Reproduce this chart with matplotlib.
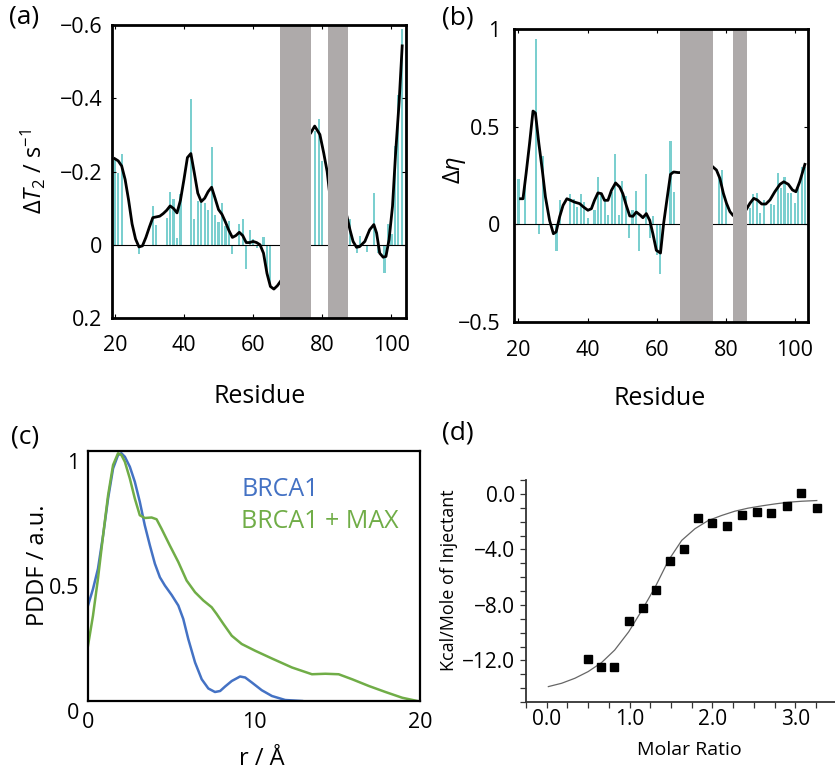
import numpy as np
import matplotlib
matplotlib.use("Agg")
import matplotlib.pyplot as plt
from matplotlib.ticker import MultipleLocator, FixedLocator, FuncFormatter
import matplotlib.transforms as mtransforms

plt.rcParams['font.family'] = ['Open Sans', 'DejaVu Sans']
plt.rcParams['mathtext.fontset'] = 'custom'
plt.rcParams['mathtext.rm'] = 'Open Sans'
plt.rcParams['mathtext.it'] = 'Open Sans:italic'

BAR = "#7bcfcf"
BAND = "#aeaaaa"
BLUE = "#4472c4"
GREEN = "#70ad47"

# ── (a) ΔT2 per residue ─────────────────────────────────────────────
res_a = [20, 21, 22, 27, 31, 32, 35, 36, 37, 38, 39, 42, 43, 44, 45, 46, 47,
         48, 49, 50, 51, 52, 53, 54, 56, 57, 58, 59, 60, 61, 63, 64, 65,
         78, 79, 80, 88, 90, 91, 93, 95, 96, 98, 99, 100, 101, 102, 103]
dt2_a = [-0.235, -0.196, -0.249, 0.026, -0.106, -0.055, -0.073, -0.145, -0.124,
         -0.018, -0.138, -0.397, -0.069, -0.120, -0.122, -0.115, -0.094,
         -0.268, -0.082, -0.062, -0.113, -0.050, -0.064, 0.026, -0.056, -0.069,
         0.066, -0.039, -0.015, 0.010, -0.021, 0.070, 0.115,
         -0.310, -0.344, -0.228, -0.070, 0.023, -0.025, 0.020, -0.140, 0.023,
         0.078, -0.058, -0.030, -0.270, -0.410, -0.590]
# smoothed trace, nan = gap under the grey bands
trace_res_a = [20, 21, 22, 23, 24, 25, 26, 27, 28, 29, 30, 31, 32, 33, 34, 35,
               36, 37, 38, 39, 40, 41, 42, 43, 44, 45, 46, 47, 48, 49, 50, 51,
               52, 53, 54, 55, 56, 57, 58, 59, 60, 61, 62, 63, 64, 65, 66, 67,
               67.9, np.nan,
               76.7, 77.8, 79.3, 80.4, 81.4, 82.0, np.nan,
               87.1, 88.0, 88.9, 89.9, 90.8, 92.3, 93.7, 94.9, 95.7, 96.6,
               97.6, 98.4, 99.3, 100.3, 101.2, 102.2, 103.1]
trace_a = [-0.235, -0.229, -0.215, -0.178, -0.122, -0.057, -0.016, 0.006,
           0.003, -0.020, -0.048, -0.074, -0.076, -0.078, -0.085, -0.094,
           -0.106, -0.099, -0.087, -0.122, -0.178, -0.238, -0.249, -0.196,
           -0.141, -0.118, -0.127, -0.145, -0.157, -0.127, -0.096, -0.083,
           -0.062, -0.039, -0.020, -0.025, -0.034, -0.025, -0.006, -0.006,
           -0.009, -0.006, 0.000, 0.023, 0.078, 0.114, 0.121, 0.112,
           0.100, np.nan,
           -0.306, -0.324, -0.301, -0.251, -0.200, -0.150, np.nan,
           -0.078, -0.041, -0.009, 0.007, 0.005, -0.009, -0.041, -0.055,
           -0.032, 0.023, 0.034, 0.032, -0.014, -0.105, -0.251, -0.388, -0.543]
bands_a = [(67.9, 76.6), (81.6, 87.3)]

# ── (b) Δη per residue ──────────────────────────────────────────────
res_b = [20, 22, 25, 26, 27, 31, 32, 35, 36, 37, 38, 39, 40, 42, 43, 44, 45,
         46, 47, 48, 49, 50, 51, 52, 53, 54, 55, 57, 58, 59, 60, 61, 64, 65,
         78, 79, 80, 87, 88, 89, 90, 91, 93, 94, 95, 96, 97, 98, 99, 100,
         101, 102, 103]
deta_b = [0.232, 0.200, 0.950, -0.050, 0.350, -0.138, 0.123, 0.154, 0.131,
          0.089, 0.157, 0.114, 0.034, 0.072, 0.242, 0.162, 0.123, 0.046,
          0.166, 0.362, 0.046, 0.220, 0.143, -0.068, 0.072, 0.171, -0.137,
          0.256, -0.068, 0.043, -0.155, -0.253, 0.427, 0.166,
          0.235, 0.280, 0.105, 0.082, 0.155, 0.159, 0.056, 0.125, 0.104,
          0.099, 0.261, 0.188, 0.244, 0.159, 0.159, 0.108, 0.188, 0.295, 0.292]
trace_res_b = [20.6, 21.3, 22.2, 23.2, 24.2, 24.9, 25.9, 26.9, 27.8, 29.0,
               30.1, 30.9, 31.9, 32.9, 34.0, 35.1, 36.2, 37.7, 38.8, 40.1,
               41.1, 42.0, 43.0, 44.0, 44.9, 45.9, 46.9, 48.1, 49.3, 50.2,
               51.2, 52.2, 53.1, 54.1, 55.3, 56.0, 57.0, 58.0, 58.9, 59.9,
               61.1, 62.0, 63.0, 64.0, 64.9, 66.2, 67.0, np.nan,
               76.2, 77.3, 78.3, 79.3, 80.2, 81.2, 82.0, np.nan,
               86.0, 87.0, 88.1, 89.1, 90.4, 91.6, 92.8, 94.2, 95.7, 96.8,
               98.1, 99.3, 100.3, 101.4, 102.9]
trace_b = [0.131, 0.131, 0.260, 0.413, 0.580, 0.570, 0.413, 0.276, 0.140,
           0.020, -0.048, -0.039, 0.038, 0.097, 0.131, 0.123, 0.114, 0.106,
           0.089, 0.072, 0.080, 0.123, 0.161, 0.157, 0.123, 0.123, 0.174,
           0.212, 0.191, 0.157, 0.097, 0.043, 0.041, 0.063, 0.046, 0.034,
           0.055, 0.020, -0.048, -0.133, -0.147, 0.003, 0.131, 0.256, 0.268,
           0.265, 0.265, np.nan,
           0.295, 0.278, 0.235, 0.159, 0.108, 0.065, 0.048, np.nan,
           0.078, 0.108, 0.133, 0.125, 0.104, 0.104, 0.125, 0.167, 0.205,
           0.218, 0.205, 0.176, 0.167, 0.218, 0.307]
bands_b = [(66.7, 76.2), (82.0, 86.0)]

# ── (c) PDDF ────────────────────────────────────────────────────────
r_brca = [0.0, 0.30, 0.60, 0.91, 1.21, 1.51, 1.81, 2.01, 2.22, 2.52, 2.82,
          3.12, 3.42, 3.73, 4.03, 4.33, 4.63, 5.04, 5.44, 5.74, 6.04, 6.45,
          6.85, 7.25, 7.65, 7.96, 8.26, 8.66, 9.16, 9.47, 9.87, 10.47, 11.08,
          11.88, 12.89]
p_brca = [0.382, 0.448, 0.529, 0.663, 0.810, 0.930, 0.984, 0.991, 0.977,
          0.937, 0.877, 0.797, 0.703, 0.622, 0.549, 0.495, 0.462, 0.424,
          0.382, 0.328, 0.248, 0.154, 0.087, 0.050, 0.036, 0.040, 0.058,
          0.080, 0.098, 0.094, 0.074, 0.043, 0.020, 0.004, 0.0]
r_max = [0.0, 0.30, 0.60, 0.91, 1.21, 1.51, 1.81, 2.01, 2.22, 2.52, 2.82,
         3.12, 3.42, 3.83, 4.13, 4.43, 4.93, 5.44, 5.94, 6.45, 6.95, 7.45,
         7.75, 8.16, 8.66, 9.26, 10.07, 11.08, 12.29, 13.49, 14.30, 15.10,
         15.91, 16.92, 17.92, 18.93, 19.84]
p_max = [0.221, 0.341, 0.489, 0.663, 0.823, 0.944, 0.991, 0.984, 0.957,
         0.890, 0.810, 0.743, 0.732, 0.734, 0.727, 0.689, 0.622, 0.556,
         0.482, 0.435, 0.402, 0.375, 0.348, 0.308, 0.261, 0.228, 0.201,
         0.170, 0.134, 0.107, 0.109, 0.107, 0.087, 0.060, 0.036, 0.013, 0.0]

# ── (d) ITC ─────────────────────────────────────────────────────────
molar = [0.50, 0.66, 0.81, 0.99, 1.16, 1.32, 1.49, 1.66, 1.83, 2.00, 2.18,
         2.36, 2.54, 2.71, 2.90, 3.07, 3.26]
kcal = [-11.93, -12.5, -12.46, -9.17, -8.22, -6.95, -4.86, -4.0, -1.72,
        -2.11, -2.33, -1.51, -1.32, -1.36, -0.84, 0.04, -1.0]
fit_x = [0.02, 0.18, 0.34, 0.50, 0.66, 0.82, 0.99, 1.15, 1.31, 1.39, 1.47,
         1.63, 1.79, 1.95, 2.11, 2.27, 2.43, 2.60, 2.76, 2.92, 3.08, 3.26]
fit_y = [-13.89, -13.65, -13.29, -12.81, -12.17, -11.26, -9.94, -8.38,
         -6.71, -5.75, -4.79, -3.35, -2.51, -1.92, -1.56, -1.25, -1.03,
         -0.86, -0.72, -0.60, -0.53, -0.48]

W, H = 835, 773


def box(l, t, r, b):
    return [l / W, 1 - b / H, (r - l) / W, (b - t) / H]


fig = plt.figure(figsize=(W / 100, H / 100), dpi=100)


def residue_panel(ax, res, vals, tr_x, tr_y, bands):
    ax.bar(res, vals, width=0.62, color=BAR, linewidth=0, zorder=1)
    ax.axhline(0, color="k", lw=0.8, zorder=2)
    ax.plot(tr_x, tr_y, color="k", lw=2.0, zorder=3)
    for lo, hi in bands:
        ax.axvspan(lo, hi, color=BAND, lw=0, zorder=4)
    for s in ax.spines.values():
        s.set_linewidth(2.0)
        s.set_zorder(5)
    ax.xaxis.set_major_locator(FixedLocator([20, 40, 60, 80, 100]))
    ax.tick_params(direction="in", top=True, right=True, length=3, width=0.8,
                   labelsize=15.5)
    ax.set_xlabel("Residue", fontsize=18)


# (a)
ax = fig.add_axes(box(112, 25, 406, 318))
residue_panel(ax, res_a, dt2_a, trace_res_a, trace_a, bands_a)
ax.set_xlim(19.2, 104.2)
ax.set_ylim(0.2, -0.6)
ax.yaxis.set_major_locator(FixedLocator([-0.6, -0.4, -0.2, 0, 0.2]))
ax.yaxis.set_major_formatter(FuncFormatter(
    lambda v, p: "0" if abs(v) < 1e-9 else f"{v:.1f}".replace("-", "\u2212")))
ax.tick_params(axis="y", pad=7)
ax.tick_params(axis="x", pad=12)
ax.set_ylabel(r"$\Delta T_2$ / s$^{-1}$", fontsize=17)
ax.yaxis.set_label_coords(-0.218, 0.5)
ax.xaxis.set_label_coords(0.503, -0.225)

# (b)
ax = fig.add_axes(box(514, 29, 808, 322))
residue_panel(ax, res_b, deta_b, trace_res_b, trace_b, bands_b)
ax.set_xlim(18.7, 103.8)
ax.set_ylim(-0.5, 1.0)
ax.yaxis.set_major_locator(FixedLocator([-0.5, 0, 0.5, 1.0]))
ax.yaxis.set_major_formatter(FuncFormatter(
    lambda v, p: f"{v:g}".replace("-", "\u2212")))
ax.tick_params(axis="y", pad=10)
ax.tick_params(axis="x", pad=13)
ax.set_ylabel(r"$\Delta\eta$", fontsize=17)
ax.yaxis.set_label_coords(-0.156, 0.52)
ax.xaxis.set_label_coords(0.497, -0.218)

# (c)
ax = fig.add_axes(box(88, 451, 420, 701))
ax.plot(r_brca, p_brca, color=BLUE, lw=1.8)
ax.plot(r_max, p_max, color=GREEN, lw=1.8)
ax.set_xlim(0, 20)
ax.set_ylim(0, 1.0)
ax.xaxis.set_major_locator(FixedLocator([0, 10, 20]))
ax.yaxis.set_major_locator(FixedLocator([0, 0.5, 1]))
ax.yaxis.set_major_formatter(FuncFormatter(lambda v, p: f"{v:g}"))
ax.tick_params(length=0, labelsize=15.5, pad=6)
ax.tick_params(axis="x", pad=8)
off = mtransforms.ScaledTranslation(0, -10 / 100, fig.dpi_scale_trans)
for lab in ax.get_yticklabels():
    lab.set_transform(lab.get_transform() + off)
for s in ax.spines.values():
    s.set_linewidth(1.6)
ax.text(0.461, 0.844, "BRCA1", color=BLUE, fontsize=18, transform=ax.transAxes,
        va="center", ha="left")
ax.text(0.461, 0.72, "BRCA1 + MAX", color=GREEN, fontsize=18,
        transform=ax.transAxes, va="center", ha="left")
ax.set_xlabel("r / \u00c5", fontsize=17)
ax.set_ylabel("PDDF / a.u.", fontsize=17)
ax.xaxis.set_label_coords(0.524, -0.184)
ax.yaxis.set_label_coords(-0.114, 0.544)

# (d)
ax = fig.add_axes(box(526, 480, 835, 702))
ax.plot(fit_x, fit_y, color="#666666", lw=0.9)
ax.plot(molar, kcal, "s", color="k", ms=5.5)
ax.set_xlim(-0.25, 3.48)
ax.set_ylim(-15, 1)
ax.spines["top"].set_visible(False)
ax.spines["right"].set_visible(False)
for s in ("left", "bottom"):
    ax.spines[s].set_linewidth(1.3)
    ax.spines[s].set_color("#333333")
ax.xaxis.set_major_locator(FixedLocator([0, 1, 2, 3]))
ax.xaxis.set_minor_locator(MultipleLocator(0.25))
ax.yaxis.set_major_locator(FixedLocator([0, -4, -8, -12]))
ax.yaxis.set_minor_locator(MultipleLocator(1))
ax.xaxis.set_major_formatter(FuncFormatter(lambda v, p: f"{v:.1f}"))
ax.yaxis.set_major_formatter(FuncFormatter(
    lambda v, p: f"{v:.1f}".replace("-", "\u2212")))
ax.tick_params(which="both", direction="out", length=4, width=0.9,
               color="#333333", labelsize=15, pad=4)
ax.tick_params(axis="x", pad=1)
ax.set_xlabel("Molar Ratio", fontsize=14)
ax.set_ylabel("Kcal/Mole of Injectant", fontsize=13)
ax.xaxis.set_label_coords(0.53, -0.176)
ax.yaxis.set_label_coords(-0.22, 0.55)

# panel letters
for txt, x, y in [("(a)", 9, 17), ("(b)", 442, 18), ("(c)", 11, 437),
                  ("(d)", 442, 433)]:
    fig.text(x / W, 1 - y / H, txt, fontsize=19, ha="left", va="center")

fig.savefig("out.png", dpi=100)
